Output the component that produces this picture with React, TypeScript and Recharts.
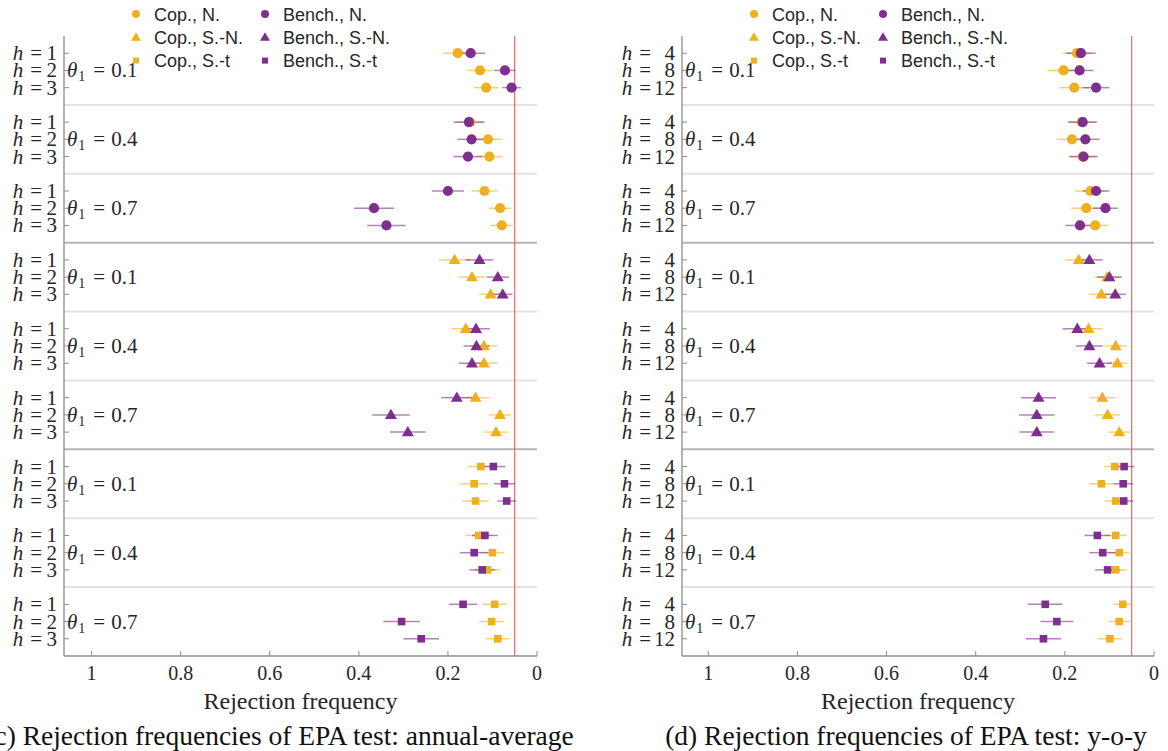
import React from "react";
import { ErrorBar, ReferenceLine, Scatter, ScatterChart, XAxis, YAxis } from "recharts";

const ORANGE = "#EDB120";
const PURPLE = "#7E2F8E";
const AXIS_GREY = "#8c8c8c";
const TEXT = "#262626";
const SERIF = "'Liberation Serif', 'Times New Roman', serif";
const SANS = "'Liberation Sans', Arial, sans-serif";

const thetaValues = ["0.1", "0.4", "0.7"];
const horizonsAnnual = ["1", "2", "3"];
const horizonsYoy = ["4", "8", "12"];
const xTicks = [0, 0.2, 0.4, 0.6, 0.8, 1];
const lightSeparators = [4, 8, 16, 20, 28, 32];
const darkSeparators = [12, 24];

// order inside every array: theta 0.1 (h1,h2,h3), theta 0.4 (...), theta 0.7 (...)
// (c) annual-average
const copAnnualN = [0.178, 0.128, 0.114, 0.15, 0.11, 0.107, 0.118, 0.083, 0.079];
const copAnnualNCi = [0.033, 0.029, 0.027, 0.033, 0.03, 0.029, 0.029, 0.025, 0.025];
const benchAnnualN = [0.149, 0.072, 0.057, 0.153, 0.147, 0.155, 0.2, 0.366, 0.338];
const benchAnnualNCi = [0.032, 0.024, 0.021, 0.034, 0.032, 0.033, 0.036, 0.045, 0.043];
const copAnnualSN = [0.185, 0.146, 0.104, 0.16, 0.119, 0.119, 0.138, 0.083, 0.092];
const copAnnualSNCi = [0.035, 0.03, 0.026, 0.032, 0.03, 0.03, 0.031, 0.025, 0.026];
const benchAnnualSN = [0.129, 0.088, 0.077, 0.137, 0.136, 0.146, 0.18, 0.328, 0.29];
const benchAnnualSNCi = [0.031, 0.025, 0.022, 0.031, 0.029, 0.03, 0.035, 0.042, 0.04];
const copAnnualSt = [0.126, 0.141, 0.138, 0.131, 0.1, 0.111, 0.095, 0.102, 0.088];
const copAnnualStCi = [0.029, 0.031, 0.03, 0.03, 0.027, 0.028, 0.027, 0.028, 0.026];
const benchAnnualSt = [0.098, 0.073, 0.068, 0.117, 0.141, 0.123, 0.166, 0.304, 0.26];
const benchAnnualStCi = [0.027, 0.024, 0.021, 0.029, 0.032, 0.029, 0.032, 0.041, 0.04];

// (d) y-o-y
const copYoyN = [0.173, 0.203, 0.179, 0.162, 0.184, 0.16, 0.143, 0.152, 0.132];
const copYoyNCi = [0.032, 0.036, 0.033, 0.032, 0.034, 0.032, 0.034, 0.034, 0.03];
const benchYoyN = [0.164, 0.167, 0.13, 0.16, 0.154, 0.158, 0.13, 0.109, 0.166];
const benchYoyNCi = [0.033, 0.031, 0.03, 0.032, 0.032, 0.031, 0.03, 0.028, 0.033];
const copYoySN = [0.169, 0.105, 0.118, 0.147, 0.086, 0.082, 0.116, 0.104, 0.078];
const copYoySNCi = [0.031, 0.028, 0.028, 0.031, 0.025, 0.023, 0.029, 0.028, 0.024];
const benchYoySN = [0.145, 0.1, 0.087, 0.172, 0.145, 0.122, 0.259, 0.263, 0.263];
const benchYoySNCi = [0.03, 0.028, 0.024, 0.033, 0.03, 0.028, 0.039, 0.04, 0.039];
const copYoySt = [0.088, 0.118, 0.086, 0.086, 0.078, 0.086, 0.07, 0.078, 0.099];
const copYoyStCi = [0.024, 0.028, 0.025, 0.025, 0.023, 0.025, 0.022, 0.024, 0.027];
const benchYoySt = [0.067, 0.069, 0.068, 0.127, 0.115, 0.104, 0.244, 0.218, 0.248];
const benchYoyStCi = [0.023, 0.022, 0.022, 0.029, 0.03, 0.028, 0.039, 0.037, 0.039];

type Pt = { x: number; y: number; err: number };

// block 0 = normal, 1 = skew-normal, 2 = skew-t; each block is 3 thetas x 3 horizons
function toRows(values: number[], halfWidths: number[], block: number): Pt[] {
  return values.map((v, k) => ({
    x: v,
    y: block * 12 + Math.floor(k / 3) * 4 + (k % 3) + 1,
    err: halfWidths[k],
  }));
}

const rowTicks: number[] = [];
for (let b = 0; b < 3; b++)
  for (let t = 0; t < 3; t++) for (let i = 0; i < 3; i++) rowTicks.push(b * 12 + t * 4 + i + 1);

const dotShape = (color: string) => (p: any) => <circle cx={p.cx} cy={p.cy} r={5.1} fill={color} />;
const triShape = (color: string) => (p: any) => (
  <polygon
    points={`${p.cx},${p.cy - 6.2} ${p.cx + 6},${p.cy + 4.2} ${p.cx - 6},${p.cy + 4.2}`}
    fill={color}
  />
);
const squareShape = (color: string) => (p: any) => (
  <rect x={p.cx - 3.8} y={p.cy - 3.8} width={7.6} height={7.6} fill={color} />
);

function makeYTick(horizons: string[], eqGap: number) {
  return function YTick(props: any) {
    const { x, y, payload } = props;
    const v = payload.value as number;
    const slot = ((v - 1) % 4) + 1;
    const theta = thetaValues[Math.floor((v % 12) / 4)];
    return (
      <g>
        <line x1={x} x2={x + 5} y1={y} y2={y} stroke={AXIS_GREY} strokeWidth={1} />
        <text x={x - eqGap} y={y + 7} textAnchor="end" fontFamily={SERIF} fontSize={21} fill={TEXT}>
          <tspan fontStyle="italic">h</tspan>
          <tspan dx={7}>=</tspan>
        </text>
        <text x={x - 7} y={y + 7} textAnchor="end" fontFamily={SERIF} fontSize={21} fill={TEXT}>
          {horizons[slot - 1]}
        </text>
        {slot === 2 && (
          <text x={x + 3} y={y + 7} fontFamily={SERIF} fontSize={21} fill={TEXT}>
            <tspan fontStyle="italic">θ</tspan>
            <tspan fontSize={14} dy={4} dx={1}>1</tspan>
            <tspan dy={-4} dx={8}>=</tspan>
            <tspan dx={6}>{theta}</tspan>
          </text>
        )}
      </g>
    );
  };
}

function XTick(props: any) {
  const { x, y, payload } = props;
  return (
    <g>
      <line x1={x} x2={x} y1={y} y2={y - 5} stroke={AXIS_GREY} strokeWidth={1} />
      <text x={x} y={y + 24} textAnchor="middle" fontFamily={SERIF} fontSize={20} fill={TEXT}>
        {String(payload.value)}
      </text>
    </g>
  );
}

function AxisTitle(props: any) {
  const { viewBox, caption, captionShift } = props;
  const cx = viewBox.x + viewBox.width / 2;
  return (
    <g>
      <text x={cx} y={viewBox.y + 53} textAnchor="middle" fontFamily={SERIF} fontSize={24} fill={TEXT}>
        Rejection frequency
      </text>
      <text x={cx + captionShift} y={viewBox.y + 89} textAnchor="middle" fontFamily={SERIF} fontSize={27.5} fill="#111">
        {caption}
      </text>
    </g>
  );
}

const legendItems = [
  { label: "Cop., N.", color: ORANGE, kind: "dot" },
  { label: "Cop., S.-N.", color: ORANGE, kind: "tri" },
  { label: "Cop., S.-t", color: ORANGE, kind: "sq" },
  { label: "Bench., N.", color: PURPLE, kind: "dot" },
  { label: "Bench., S.-N.", color: PURPLE, kind: "tri" },
  { label: "Bench., S.-t", color: PURPLE, kind: "sq" },
];

function LegendBox({ axisX }: { axisX: number }) {
  return (
    <svg
      width={260}
      height={75}
      style={{ position: "absolute", left: axisX + 60, top: 0, overflow: "visible", pointerEvents: "none" }}
    >
      {legendItems.map((it, i) => {
        const col = Math.floor(i / 3);
        const row = i % 3;
        const mx = 12 + col * 129;
        const my = 14 + row * 23.3;
        return (
          <g key={it.label}>
            {it.kind === "dot" && <circle cx={mx} cy={my} r={4} fill={it.color} />}
            {it.kind === "tri" && (
              <polygon points={`${mx},${my - 5} ${mx + 5},${my + 3.5} ${mx - 5},${my + 3.5}`} fill={it.color} />
            )}
            {it.kind === "sq" && <rect x={mx - 3} y={my - 3} width={6} height={6} fill={it.color} />}
            <text x={mx + 18} y={my + 6.5} fontFamily={SANS} fontSize={18} fill={TEXT}>
              {it.label}
            </text>
          </g>
        );
      })}
    </svg>
  );
}

type PanelProps = {
  left: number;
  width: number;
  yAxisWidth: number;
  marginRight: number;
  xMax: number;
  horizons: string[];
  eqGap: number;
  caption: string;
  captionShift: number;
  copN: Pt[];
  benchN: Pt[];
  copSN: Pt[];
  benchSN: Pt[];
  copSt: Pt[];
  benchSt: Pt[];
};

function Panel(p: PanelProps) {
  const series = [
    { key: "copN", data: p.copN, color: ORANGE, shape: dotShape(ORANGE) },
    { key: "benchN", data: p.benchN, color: PURPLE, shape: dotShape(PURPLE) },
    { key: "copSN", data: p.copSN, color: ORANGE, shape: triShape(ORANGE) },
    { key: "benchSN", data: p.benchSN, color: PURPLE, shape: triShape(PURPLE) },
    { key: "copSt", data: p.copSt, color: ORANGE, shape: squareShape(ORANGE) },
    { key: "benchSt", data: p.benchSt, color: PURPLE, shape: squareShape(PURPLE) },
  ];
  return (
    <div style={{ position: "absolute", left: p.left, top: 0 }}>
      <ScatterChart width={p.width} height={751} margin={{ top: 36, right: p.marginRight, bottom: 0, left: 0 }}>
        <XAxis
          type="number"
          dataKey="x"
          domain={[0, p.xMax]}
          allowDataOverflow
          reversed
          ticks={xTicks}
          interval={0}
          height={95}
          tickSize={0}
          tickMargin={0}
          tickLine={false}
          axisLine={{ stroke: AXIS_GREY, strokeWidth: 1.3 }}
          tick={<XTick />}
          label={<AxisTitle caption={p.caption} captionShift={p.captionShift} />}
        />
        <YAxis
          type="number"
          dataKey="y"
          domain={[0, 36]}
          allowDataOverflow
          reversed
          ticks={rowTicks}
          interval={0}
          width={p.yAxisWidth}
          tickSize={0}
          tickMargin={0}
          tickLine={false}
          axisLine={{ stroke: AXIS_GREY, strokeWidth: 1.3 }}
          tick={makeYTick(p.horizons, p.eqGap)}
        />
        {lightSeparators.map((s) => (
          <ReferenceLine key={`l${s}`} y={s} stroke="#e2e2e2" strokeWidth={2} />
        ))}
        {darkSeparators.map((s) => (
          <ReferenceLine key={`d${s}`} y={s} stroke="#b5b5b5" strokeWidth={2} />
        ))}
        <ReferenceLine x={0.05} stroke="#eb4b4b" strokeWidth={1} />
        {series.map((s) => (
          <Scatter key={s.key} data={s.data} fill={s.color} shape={s.shape} isAnimationActive={false}>
            <ErrorBar dataKey="err" direction="x" width={0} stroke={s.color} strokeWidth={1.5} strokeOpacity={0.6} />
          </Scatter>
        ))}
      </ScatterChart>
    </div>
  );
}

export default function App() {
  return (
    <div style={{ position: "absolute", left: 0, top: 0, width: 1168, height: 751, background: "#fff", overflow: "hidden" }}>
      <Panel
        left={0}
        width={584}
        yAxisWidth={64}
        marginRight={47}
        xMax={1.062}
        horizons={horizonsAnnual}
        eqGap={22}
        caption="(c) Rejection frequencies of EPA test: annual-average"
        captionShift={-21}
        copN={toRows(copAnnualN, copAnnualNCi, 0)}
        benchN={toRows(benchAnnualN, benchAnnualNCi, 0)}
        copSN={toRows(copAnnualSN, copAnnualSNCi, 1)}
        benchSN={toRows(benchAnnualSN, benchAnnualSNCi, 1)}
        copSt={toRows(copAnnualSt, copAnnualStCi, 2)}
        benchSt={toRows(benchAnnualSt, benchAnnualStCi, 2)}
      />
      <Panel
        left={582}
        width={586}
        yAxisWidth={100}
        marginRight={14}
        xMax={1.059}
        horizons={horizonsYoy}
        eqGap={31}
        caption="(d) Rejection frequencies of EPA test: y-o-y"
        captionShift={-12}
        copN={toRows(copYoyN, copYoyNCi, 0)}
        benchN={toRows(benchYoyN, benchYoyNCi, 0)}
        copSN={toRows(copYoySN, copYoySNCi, 1)}
        benchSN={toRows(benchYoySN, benchYoySNCi, 1)}
        copSt={toRows(copYoySt, copYoyStCi, 2)}
        benchSt={toRows(benchYoySt, benchYoyStCi, 2)}
      />
      <LegendBox axisX={64} />
      <LegendBox axisX={682} />
    </div>
  );
}
